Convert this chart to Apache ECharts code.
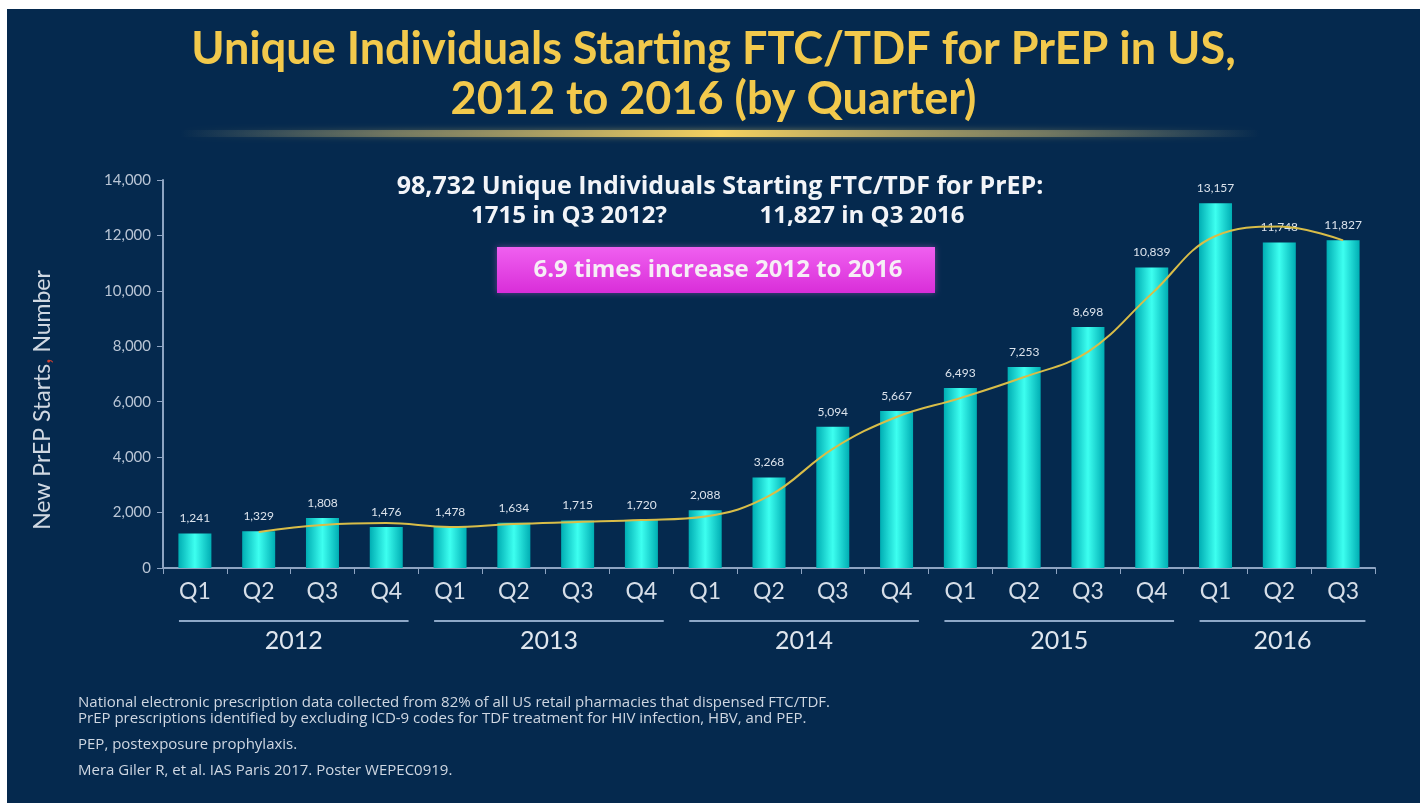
<!DOCTYPE html>
<html>
<head>
<meta charset="utf-8">
<title>PrEP starts by quarter</title>
<script src="https://cdn.jsdelivr.net/npm/echarts@6/dist/echarts.min.js"></script>
<style>
  html, body { margin: 0; padding: 0; background: #fff; }
  #chart { position: absolute; left: 7px; top: 9px; width: 1413px; height: 794px; }
</style>
</head>
<body>
<div id="chart"></div>
<script>
const quarters = ['Q1', 'Q2', 'Q3', 'Q4', 'Q1', 'Q2', 'Q3', 'Q4', 'Q1', 'Q2', 'Q3', 'Q4',
  'Q1', 'Q2', 'Q3', 'Q4', 'Q1', 'Q2', 'Q3'];
const starts = [1241, 1329, 1808, 1476, 1478, 1634, 1715, 1720, 2088, 3268, 5094, 5667,
  6493, 7253, 8698, 10839, 13157, 11748, 11827];
// trend curve
const trend = [null, 1300, 1550, 1620, 1480, 1590, 1660, 1730, 1860, 2600, 4300, 5450,
  6130, 6890, 7800, 9900, 11980, 12320, 11820];
const years = ['2012', '2013', '2014', '2015', '2016'];
const yearFirst = [0, 4, 8, 12, 16];
const yearLast = [3, 7, 11, 15, 18];
const footnotes = [
  'National electronic prescription data collected from 82% of all US retail pharmacies that dispensed FTC/TDF.',
  'PrEP prescriptions identified by excluding ICD-9 codes for TDF treatment for HIV infection, HBV, and PEP.',
  'PEP, postexposure prophylaxis.',
  'Mera Giler R, et al. IAS Paris 2017. Poster WEPEC0919.'
];

const FONT = 'Lato, "Open Sans", sans-serif';
const WIDE_FONT = '"Open Sans", Lato, sans-serif';

const chart = echarts.init(document.getElementById('chart'), undefined, { renderer: 'canvas' });

const barGradient = new echarts.graphic.LinearGradient(0, 0, 1, 0, [
  { offset: 0, color: '#00aeb4' },
  { offset: 0.5, color: '#3dfff0' },
  { offset: 1, color: '#00aeb4' }
]);

chart.setOption({
  backgroundColor: '#05294e',
  animation: false,
  textStyle: { fontFamily: FONT },
  title: {
    text: 'Unique Individuals Starting FTC/TDF for PrEP in US,\n2012 to 2016 (by Quarter)',
    left: 'center',
    top: 10,
    textStyle: {
      color: '#f2c94c',
      fontFamily: FONT,
      fontWeight: 'bold',
      fontSize: 45,
      lineHeight: 50
    }
  },
  grid: { left: 156, right: 45, top: 171, bottom: 235 },
  xAxis: {
    type: 'category',
    data: quarters,
    axisLine: { lineStyle: { color: '#8ea4c2', width: 2 } },
    axisTick: { show: true, length: 6, lineStyle: { color: '#8ea4c2' } },
    axisLabel: { color: '#d6dee8', fontSize: 23, margin: 12, interval: 0 }
  },
  yAxis: {
    type: 'value',
    min: 0,
    max: 14000,
    interval: 2000,
    splitLine: { show: false },
    axisLine: { show: true, lineStyle: { color: '#8ea4c2', width: 2 } },
    axisTick: { show: true, length: 6, lineStyle: { color: '#8ea4c2' } },
    axisLabel: {
      color: '#b9c5d5',
      fontSize: 15,
      margin: 12,
      formatter: v => v.toLocaleString('en-US')
    }
  },
  series: [
    {
      type: 'bar',
      data: starts,
      barWidth: 33,
      itemStyle: { color: barGradient },
      label: {
        show: true,
        position: 'top',
        distance: 9,
        color: '#dce3ec',
        fontSize: 12,
        formatter: p => p.value.toLocaleString('en-US')
      },
      z: 2
    },
    {
      type: 'line',
      data: trend,
      smooth: 0.4,
      symbol: 'none',
      lineStyle: { color: '#d9bd48', width: 2 },
      z: 3
    }
  ]
});

function drawExtras() {
  const x0 = chart.convertToPixel({ xAxisIndex: 0 }, 0);
  const step = chart.convertToPixel({ xAxisIndex: 0 }, 1) - x0;
  const elements = [];

  // glowing rule under the title
  elements.push({
    type: 'rect',
    shape: { x: 173, y: 121, width: 1080, height: 7 },
    style: {
      fill: new echarts.graphic.LinearGradient(0, 0, 1, 0, [
        { offset: 0, color: 'rgba(150,150,120,0)' },
        { offset: 0.2, color: 'rgba(170,160,110,0.55)' },
        { offset: 0.5, color: 'rgba(245,210,95,1)' },
        { offset: 0.8, color: 'rgba(170,160,110,0.55)' },
        { offset: 1, color: 'rgba(150,150,120,0)' }
      ]),
      shadowBlur: 6,
      shadowColor: 'rgba(240,210,100,0.5)'
    }
  });

  // y axis title, set a little below the axis middle as in the slide
  elements.push({
    type: 'text',
    x: 36, y: 391,
    rotation: Math.PI / 2,
    style: {
      text: '{a|New PrEP Starts}{r|,}{a| Number}',
      align: 'center', verticalAlign: 'middle',
      rich: {
        a: { fill: '#d0d8e2', font: '23px ' + FONT },
        r: { fill: '#d04030', font: '23px ' + FONT }
      }
    }
  });

  // headline text block
  const headFont = 'bold 24px ' + WIDE_FONT;
  elements.push({
    type: 'text',
    x: 713, y: 178,
    style: {
      text: '98,732 Unique Individuals Starting FTC/TDF for PrEP:',
      fill: '#f2f4f8', font: 'bold 25px ' + WIDE_FONT, align: 'center', verticalAlign: 'middle'
    }
  });
  elements.push({
    type: 'text',
    x: 562, y: 207,
    style: {
      text: '1715 in Q3 2012?',
      fill: '#f2f4f8', font: headFont, align: 'center', verticalAlign: 'middle'
    }
  });
  elements.push({
    type: 'text',
    x: 855, y: 207,
    style: {
      text: '11,827 in Q3 2016',
      fill: '#f2f4f8', font: headFont, align: 'center', verticalAlign: 'middle'
    }
  });

  // magenta call-out
  elements.push({
    type: 'rect',
    shape: { x: 490, y: 238, width: 438, height: 46 },
    style: {
      fill: new echarts.graphic.LinearGradient(0, 0, 0, 1, [
        { offset: 0, color: '#f060f0' },
        { offset: 1, color: '#d92ed9' }
      ]),
      shadowBlur: 6,
      shadowColor: 'rgba(240,100,240,0.4)'
    }
  });
  elements.push({
    type: 'text',
    x: 711, y: 261,
    style: {
      text: '6.9 times increase 2012 to 2016',
      fill: '#f6eef6', font: headFont, align: 'center', verticalAlign: 'middle'
    }
  });

  // year brackets under the quarters
  years.forEach((yr, i) => {
    const a = x0 + yearFirst[i] * step - 0.25 * step;
    const b = x0 + yearLast[i] * step + 0.35 * step;
    elements.push({
      type: 'line',
      shape: { x1: a, y1: 612, x2: b, y2: 612 },
      style: { stroke: '#8ea8c8', lineWidth: 2 }
    });
    elements.push({
      type: 'text',
      x: (a + b) / 2, y: 632,
      style: {
        text: yr, fill: '#dfe6ee', font: '25px ' + FONT, align: 'center', verticalAlign: 'middle'
      }
    });
  });

  // footnotes
  const noteY = [694, 710, 736, 762];
  footnotes.forEach((t, i) => {
    elements.push({
      type: 'text',
      x: 71, y: noteY[i],
      style: { text: t, fill: '#cfd7e2', font: '15px ' + WIDE_FONT, verticalAlign: 'middle' }
    });
  });

  chart.setOption({ graphic: { elements: elements } });
}

drawExtras();
window.addEventListener('resize', () => { chart.resize(); drawExtras(); });
</script>
</body>
</html>
